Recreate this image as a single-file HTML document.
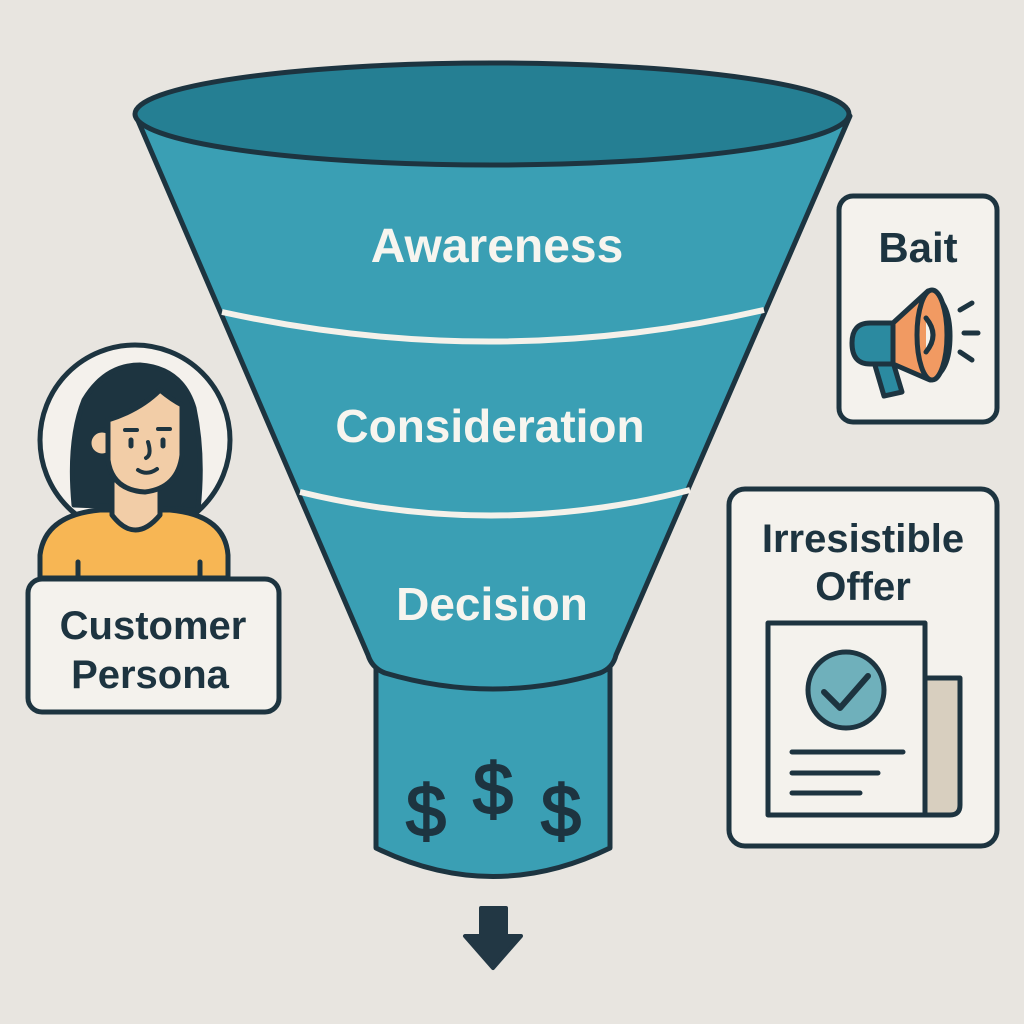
<!DOCTYPE html>
<html><head><meta charset="utf-8"><style>
html,body{margin:0;padding:0;background:#e8e5e0;}
svg{display:block;}
text{font-family:"Liberation Sans",sans-serif;}
</style></head><body>
<svg width="1024" height="1024" viewBox="0 0 1024 1024" xmlns="http://www.w3.org/2000/svg">
<rect width="1024" height="1024" fill="#e8e5e0"/>
<g stroke="#1d3440" stroke-width="5" stroke-linejoin="round">
<path d="M376 668 L376 848 Q493 905 610 848 L610 668 Z" fill="#3a9fb4"/>
<path d="M136 116 L368 655 Q372 668 385 673 Q493 705 600 673 Q613 668 616 655 L850 116 Z" fill="#3a9fb4"/>
<ellipse cx="492" cy="114" rx="357" ry="51" fill="#257f93"/>
</g>
<path d="M222 312 Q495 372 764 310" fill="none" stroke="#f4f1ea" stroke-width="6"/>
<path d="M300 492 Q495 540 690 490" fill="none" stroke="#f4f1ea" stroke-width="6"/>
<g fill="#f7f5ef" text-anchor="middle" font-weight="bold">
<text x="497" y="262" font-size="48">Awareness</text>
<text x="490" y="442" font-size="46">Consideration</text>
<text x="492" y="620" font-size="46">Decision</text>
</g>
<g fill="#1d3440" text-anchor="middle" font-size="72" stroke="#1d3440" stroke-width="2">
<text x="426" y="836">$</text>
<text x="493" y="814">$</text>
<text x="561" y="836">$</text>
</g>
<path d="M481 908 L506 908 L506 936 L521 936 L493 968 L465 936 L481 936 Z" fill="#223744" stroke="#223744" stroke-width="4" stroke-linejoin="round"/>

<g stroke="#1d3440" stroke-width="5" stroke-linejoin="round" stroke-linecap="round">
<circle cx="135" cy="440" r="95" fill="#f4f1ec"/>
<path d="M74 505 Q68 440 84 400 Q105 365 140 365 Q182 368 194 408 Q204 455 198 510 Z" fill="#1d3440"/>
<path d="M40 578 L40 555 Q45 515 100 510 L170 510 Q225 515 228 555 L228 578 Z" fill="#f7b654"/>
<path d="M112 480 L112 515 Q135 545 160 515 L160 480 Z" fill="#f2cda7"/>
<circle cx="102" cy="443" r="13" fill="#f2cda7"/>
<path d="M108 420 Q140 410 160 390 Q172 400 182 405 L182 455 Q178 488 145 492 Q112 490 108 460 Z" fill="#f2cda7"/>
<path d="M78 562 L78 578 M200 562 L200 578" fill="none"/>
<path d="M125 430 L137 430 M158 429 L170 429" fill="none" stroke-width="4"/>
<path d="M131 440 L131 446 M163 440 L163 446" fill="none" stroke-width="5"/>
<path d="M148 442 Q152 455 146 458" fill="none" stroke-width="4"/>
<path d="M138 470 Q147 476 157 469" fill="none" stroke-width="4"/>
<rect x="28" y="579" width="251" height="133" rx="14" fill="#f4f2ed"/>
</g>
<g fill="#1d3440" text-anchor="middle" font-size="40" font-weight="bold">
<text x="153" y="639">Customer</text>
<text x="150" y="688">Persona</text>
</g>

<g stroke="#1d3440" stroke-width="5" stroke-linejoin="round" stroke-linecap="round">
<rect x="839" y="196" width="158" height="226" rx="14" fill="#f4f2ed"/>
<path d="M874 362 L893 362 L902 392 L884 396 Z" fill="#2b8aa0"/>
<path d="M870 323 L895 323 L895 364 L870 364 Q852 364 852 343 Q852 323 870 323 Z" fill="#2b8aa0"/>
<path d="M893 323 L928 291 Q950 300 950 336 Q950 372 930 380 L893 364 Z" fill="#f19a62"/>
<ellipse cx="932" cy="335" rx="15" ry="45" fill="#f19a62"/>
<path d="M926 318 Q940 335 926 352" fill="#f4f2ed"/>
<path d="M960 310 L972 303 M964 333 L978 333 M960 352 L972 360" fill="none"/>
</g>
<text x="918" y="262" font-size="42" font-weight="bold" fill="#1d3440" text-anchor="middle">Bait</text>

<g stroke="#1d3440" stroke-width="5" stroke-linejoin="round" stroke-linecap="round">
<rect x="729" y="489" width="268" height="357" rx="16" fill="#f4f2ed"/>
<path d="M925 678 L960 678 L960 805 Q960 815 950 815 L925 815 Z" fill="#d8cfbf"/>
<rect x="768" y="623" width="157" height="192" fill="#f4f2ed"/>
<circle cx="846" cy="690" r="38" fill="#6fb0bb"/>
<path d="M824 692 L840 708 L868 676" fill="none" stroke-width="6"/>
<path d="M792 752 L903 752 M792 773 L878 773 M792 793 L860 793" fill="none" stroke-width="5"/>
</g>
<g fill="#1d3440" text-anchor="middle" font-size="40" font-weight="bold">
<text x="863" y="552">Irresistible</text>
<text x="863" y="600">Offer</text>
</g>
</svg>
</body></html>
